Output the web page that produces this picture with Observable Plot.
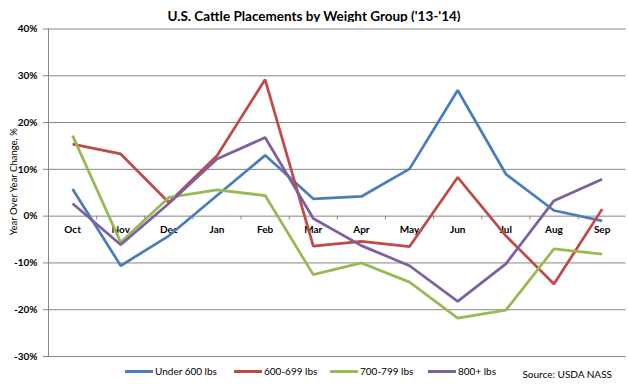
<!DOCTYPE html>
<html>
<head>
<meta charset="utf-8">
<script src="https://cdn.jsdelivr.net/npm/d3@7"></script>
<script src="https://cdn.jsdelivr.net/npm/@observablehq/plot@0.6"></script>
<style>
  html, body { margin: 0; padding: 0; background: #fff; }
  body { width: 628px; height: 384px; position: relative; overflow: hidden; font-family: Lato, "Open Sans", sans-serif; color: #000; }
  #title { position: absolute; left: 0; top: 8px; width: 628px; text-align: center; font-weight: bold; font-size: 13.5px; line-height: 16px; }
  #chart { position: absolute; left: 0; top: 22px; }
  .leg { position: absolute; top: 363px; height: 16px; display: flex; align-items: center; font-size: 10px; white-space: nowrap; }
  .sw { width: 28px; height: 3px; margin-right: 2px; }
  #source { position: absolute; top: 367px; right: 16px; font-size: 10px; line-height: 14px; }
</style>
</head>
<body>
<div id="title">U.S. Cattle Placements by Weight Group ('13-'14)</div>
<div id="chart"></div>
<div id="legend"></div>
<div id="source">Source: USDA NASS</div>
<script>
const months = ["Oct","Nov","Dec","Jan","Feb","Mar","Apr","May","Jun","Jul","Aug","Sep"];
const seriesNames = ["Under 600 lbs","600-699 lbs","700-799 lbs","800+ lbs"];
const colors = ["#4A7EBB","#BE4B48","#98B954","#7D60A0"];
const under600 = [5.8, -10.6, -4.2, 4.4, 13.0, 3.7, 4.2, 10.1, 26.9, 9.0, 1.2, -1.0];
const w600_699 = [15.4, 13.3, 2.9, 12.9, 29.2, -6.4, -5.4, -6.5, 8.3, -4.2, -14.5, 1.5];
const w700_799 = [17.2, -5.6, 4.0, 5.6, 4.4, -12.5, -10.0, -14.1, -21.8, -20.1, -7.0, -8.1];
const w800plus = [2.7, -6.1, 2.7, 12.2, 16.8, -0.5, -6.3, -10.6, -18.2, -10.2, 3.3, 7.9];
const yTicks = [-30, -20, -10, 0, 10, 20, 30, 40];

const seriesValues = [under600, w600_699, w700_799, w800plus];
const data = seriesValues.flatMap((vals, s) =>
  vals.map((v, i) => ({i, month: months[i], value: v, series: seriesNames[s]})));
const boundaries = months.slice(0, -1).map((m, i) => i + 0.5);

const chart = Plot.plot({
  width: 628,
  height: 340,
  marginTop: 6.5,
  marginBottom: 6,
  marginLeft: 48,
  marginRight: 2.3,
  style: {fontFamily: "Lato, 'Open Sans', sans-serif", background: "#fff", color: "#000"},
  x: {domain: [-0.5, months.length - 0.5], axis: null},
  y: {domain: [-30, 40], axis: null},
  color: {domain: seriesNames, range: colors},
  marks: [
    Plot.ruleY(yTicks, {stroke: "#868686", strokeWidth: 1}),
    Plot.ruleX([-0.5], {y1: -30, y2: 40, stroke: "#868686"}),
    Plot.axisY({ticks: yTicks, label: null, tickSize: 5, tickPadding: 6, tickFormat: d => d + "%",
      fontWeight: "bold", fontSize: 10, stroke: "#868686", fill: "#000"}),
    Plot.ruleX(boundaries, {y1: 0, y2: -0.8, stroke: "#868686"}),
    Plot.text(months, {x: (d, i) => i, y: 0, text: d => d, dy: 14, fontWeight: "bold", fontSize: 10, fill: "#000"}),
    Plot.line(data, {x: "i", y: "value", z: "series", stroke: "series", strokeWidth: 2.75, strokeLinejoin: "miter", strokeLinecap: "butt"}),
    Plot.text(["Year Over Year Change, %"], {frameAnchor: "left", textAnchor: "middle", rotate: -90, dx: -35, dy: -11, fontSize: 9.5, fill: "#000"})
  ]
});
document.getElementById("chart").appendChild(chart);

const legendLefts = [125, 234, 330, 428];
const legend = document.getElementById("legend");
seriesNames.forEach((name, k) => {
  const item = document.createElement("div");
  item.className = "leg";
  item.style.left = legendLefts[k] + "px";
  const sw = document.createElement("div");
  sw.className = "sw";
  sw.style.background = colors[k];
  const t = document.createElement("span");
  t.textContent = name;
  item.appendChild(sw);
  item.appendChild(t);
  legend.appendChild(item);
});
</script>
</body>
</html>
